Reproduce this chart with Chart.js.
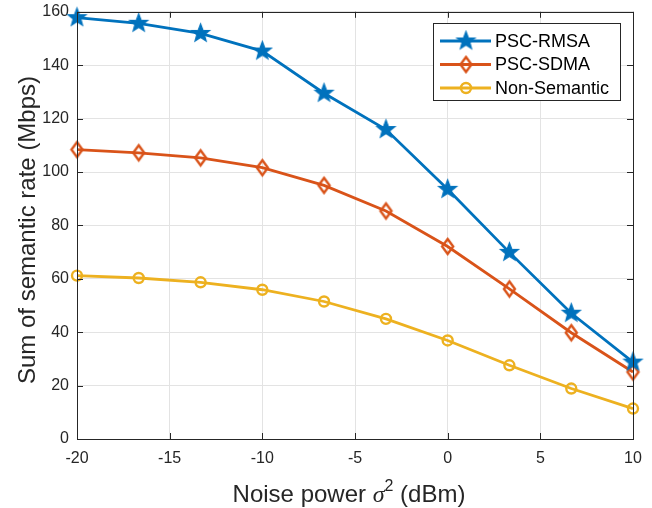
<!DOCTYPE html>
<html>
<head>
<meta charset="utf-8">
<script src="https://cdn.jsdelivr.net/npm/chart.js@4.4.1/dist/chart.umd.min.js"></script>
<style>
  body { margin: 0; background: #fff; }
  #wrap { width: 652px; height: 508px; }
</style>
</head>
<body>
<div id="wrap"><canvas id="chart" width="652" height="508"></canvas></div>
<script>
// noise power (dBm)
const noisePower = [-20, -16.67, -13.33, -10, -6.67, -3.33, 0, 3.33, 6.67, 10];
const pscRmsa = [157.8, 155.7, 151.9, 145.3, 129.5, 115.9, 93.5, 69.9, 47.1, 28.8];
const pscSdma = [108.4, 107.2, 105.3, 101.6, 95.0, 85.4, 72.1, 56.2, 39.8, 25.1];
const nonSemantic = [61.2, 60.3, 58.7, 55.9, 51.5, 45.0, 36.9, 27.6, 18.9, 11.4];
const xTickValues = [-20, -15, -10, -5, 0, 5, 10];
const yTickValues = [0, 20, 40, 60, 80, 100, 120, 140, 160];
const seriesNames = ['PSC-RMSA', 'PSC-SDMA', 'Non-Semantic'];

const BLUE = '#0072BD', ORANGE = '#D95319', YELLOW = '#EDB120';
const AXIS = '#262626';
const FONT = "'Liberation Sans', Arial, sans-serif";

function makeStar(color, r) {
  const c = document.createElement('canvas');
  const s = Math.ceil(r * 2 + 4);
  c.width = s; c.height = s;
  const g = c.getContext('2d');
  const cx = s / 2, cy = s / 2, ri = r * 0.42;
  g.beginPath();
  for (let i = 0; i < 10; i++) {
    const rad = i % 2 === 0 ? r : ri;
    const a = -Math.PI / 2 + i * Math.PI / 5;
    g.lineTo(cx + rad * Math.cos(a), cy + rad * Math.sin(a));
  }
  g.closePath();
  g.fillStyle = color;
  g.fill();
  g.lineWidth = 1.2;
  g.strokeStyle = color;
  g.stroke();
  return c;
}

function makeDiamond(color, w, h) {
  const c = document.createElement('canvas');
  c.width = Math.ceil(w * 2 + 6); c.height = Math.ceil(h * 2 + 6);
  const g = c.getContext('2d');
  const cx = c.width / 2, cy = c.height / 2;
  g.beginPath();
  g.moveTo(cx, cy - h); g.lineTo(cx + w, cy); g.lineTo(cx, cy + h); g.lineTo(cx - w, cy);
  g.closePath();
  g.lineWidth = 2.4;
  g.strokeStyle = color;
  g.stroke();
  return c;
}

const starImg = makeStar(BLUE, 9.5);
const diamondImg = makeDiamond(ORANGE, 5.5, 7.5);

function toPoints(ys) {
  return ys.map((y, i) => ({ x: noisePower[i], y: y }));
}

const matlabLook = {
  id: 'matlabLook',
  afterDraw(chart) {
    const ctx = chart.ctx;
    const a = chart.chartArea;
    const xs = chart.scales.x, ys = chart.scales.y;
    ctx.save();
    // frame with inner ticks
    ctx.strokeStyle = AXIS;
    ctx.lineWidth = 1;
    ctx.strokeRect(Math.round(a.left) + 0.5, Math.round(a.top) + 0.5,
      Math.round(a.right - a.left), Math.round(a.bottom - a.top));
    const tl = 6;
    ctx.beginPath();
    xTickValues.forEach(v => {
      const px = Math.round(xs.getPixelForValue(v)) + 0.5;
      ctx.moveTo(px, a.bottom); ctx.lineTo(px, a.bottom - tl);
      ctx.moveTo(px, a.top); ctx.lineTo(px, a.top + tl);
    });
    yTickValues.forEach(v => {
      const py = Math.round(ys.getPixelForValue(v)) + 0.5;
      ctx.moveTo(a.left, py); ctx.lineTo(a.left + tl, py);
      ctx.moveTo(a.right, py); ctx.lineTo(a.right - tl, py);
    });
    ctx.stroke();

    // legend
    const lx = 433.5, ly = 23.5, lw = 187, lh = 77;
    ctx.fillStyle = '#fff';
    ctx.fillRect(lx, ly, lw, lh);
    ctx.strokeStyle = AXIS;
    ctx.strokeRect(lx, ly, lw, lh);
    const rows = [41, 64.5, 88];
    const colors = [BLUE, ORANGE, YELLOW];
    rows.forEach((ry, i) => {
      ctx.strokeStyle = colors[i];
      ctx.lineWidth = 2.8;
      ctx.beginPath();
      ctx.moveTo(440, ry); ctx.lineTo(491, ry);
      ctx.stroke();
      if (i === 0) ctx.drawImage(starImg, 466 - starImg.width / 2, ry - starImg.height / 2);
      if (i === 1) ctx.drawImage(diamondImg, 466 - diamondImg.width / 2, ry - diamondImg.height / 2);
      if (i === 2) {
        ctx.lineWidth = 2.4;
        ctx.beginPath();
        ctx.arc(466, ry, 5, 0, Math.PI * 2);
        ctx.stroke();
      }
      ctx.fillStyle = '#000';
      ctx.font = '18px ' + FONT;
      ctx.textBaseline = 'middle';
      ctx.textAlign = 'left';
      ctx.fillText(seriesNames[i], 495, ry + 1);
    });

    // axis titles
    ctx.fillStyle = AXIS;
    ctx.textBaseline = 'alphabetic';
    ctx.textAlign = 'left';
    const parts = [
      { t: 'Noise power ', f: '24px ' + FONT, dy: 0 },
      { t: 'σ', f: "italic 24px 'Liberation Serif', serif", dy: 0 },
      { t: '2', f: '16px ' + FONT, dy: -11 },
      { t: ' (dBm)', f: '24px ' + FONT, dy: 0 }
    ];
    let total = 0;
    parts.forEach(p => { ctx.font = p.f; p.w = ctx.measureText(p.t).width; total += p.w; });
    let cx = 349 - total / 2;
    parts.forEach(p => { ctx.font = p.f; ctx.fillText(p.t, cx, 502 + p.dy); cx += p.w; });

    ctx.translate(35, 230);
    ctx.rotate(-Math.PI / 2);
    ctx.font = '24px ' + FONT;
    ctx.textAlign = 'center';
    ctx.fillText('Sum of semantic rate (Mbps)', 0, 0);
    ctx.restore();
  }
};

new Chart(document.getElementById('chart').getContext('2d'), {
  type: 'line',
  data: {
    datasets: [
      { label: seriesNames[0], data: toPoints(pscRmsa), borderColor: BLUE, borderWidth: 2.8,
        pointStyle: starImg, pointRadius: 9, clip: false },
      { label: seriesNames[1], data: toPoints(pscSdma), borderColor: ORANGE, borderWidth: 2.8,
        pointStyle: diamondImg, pointRadius: 8, clip: false },
      { label: seriesNames[2], data: toPoints(nonSemantic), borderColor: YELLOW, borderWidth: 2.8,
        pointStyle: 'circle', pointRadius: 5, pointBorderWidth: 2.4, pointBorderColor: YELLOW,
        pointBackgroundColor: 'rgba(0,0,0,0)', clip: false }
    ]
  },
  options: {
    responsive: false,
    animation: false,
    layout: { padding: { top: 8, right: 19, left: 0, bottom: 0 } },
    plugins: { legend: { display: false }, tooltip: { enabled: false } },
    elements: { line: { tension: 0 } },
    scales: {
      x: {
        type: 'linear', min: -20, max: 10,
        afterBuildTicks: s => { s.ticks = xTickValues.map(v => ({ value: v })); },
        afterFit: s => { s.height = 69; s.paddingLeft = 0; s.paddingRight = 0; },
        grid: { color: '#e3e3e3', drawTicks: false },
        border: { display: false },
        ticks: { padding: 10, color: AXIS, font: { family: FONT, size: 16 }, maxRotation: 0 }
      },
      y: {
        type: 'linear', min: 0, max: 160,
        afterBuildTicks: s => { s.ticks = yTickValues.map(v => ({ value: v })); },
        afterFit: s => { s.width = 77; s.paddingTop = 0; s.paddingBottom = 0; },
        grid: { color: '#e3e3e3', drawTicks: false },
        border: { display: false },
        ticks: { padding: 8, color: AXIS, font: { family: FONT, size: 16 } }
      }
    }
  },
  plugins: [matlabLook]
});
</script>
</body>
</html>
